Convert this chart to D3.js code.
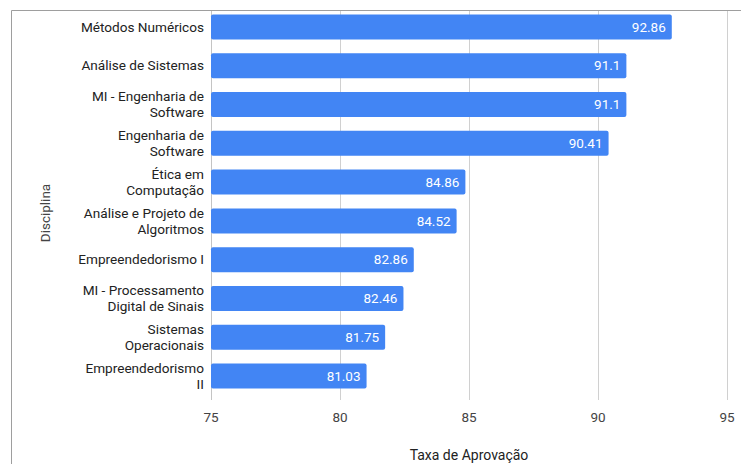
<!DOCTYPE html>
<html>
<head>
<meta charset="utf-8">
<script src="https://cdn.jsdelivr.net/npm/d3@7"></script>
<style>
  html, body { margin: 0; padding: 0; background: #fff; }
  svg { display: block; font-family: Roboto, "Noto Sans", sans-serif; }
</style>
</head>
<body>
<svg id="chart" width="741" height="464"></svg>
<script>
// Approval rate per course
const disciplinas = [
  ["Métodos Numéricos"],
  ["Análise de Sistemas"],
  ["MI - Engenharia de", "Software"],
  ["Engenharia de", "Software"],
  ["Ética em", "Computação"],
  ["Análise e Projeto de", "Algoritmos"],
  ["Empreendedorismo I"],
  ["MI - Processamento", "Digital de Sinais"],
  ["Sistemas", "Operacionais"],
  ["Empreendedorismo", "II"]
];
const taxas = [92.86, 91.1, 91.1, 90.41, 84.86, 84.52, 82.86, 82.46, 81.75, 81.03];
const xTicks = [75, 80, 85, 90, 95];
const xTitle = "Taxa de Aprovação";
const yTitle = "Disciplina";

const svg = d3.select("#chart");

// frame around the chart card
svg.append("path")
  .attr("d", "M11.5,464 V10.5 H741")
  .attr("fill", "none")
  .attr("stroke", "#9e9e9e")
  .attr("stroke-width", 1);

const plot = { left: 211, right: 727, top: 7.5, bottom: 395.5, gridTop: 11, gridBottom: 400 };

const x = d3.scaleLinear().domain([75, 95]).range([plot.left, plot.right]);
const idx = d3.range(taxas.length);
const y = d3.scaleBand().domain(idx).range([plot.top, plot.bottom])
  .paddingInner(0.355).paddingOuter(0.1775);

// vertical gridlines
svg.append("g").selectAll("line")
  .data(xTicks)
  .join("line")
  .attr("x1", d => Math.round(x(d)) + 0.5)
  .attr("x2", d => Math.round(x(d)) + 0.5)
  .attr("y1", plot.gridTop)
  .attr("y2", plot.gridBottom)
  .attr("stroke", d => d === 75 ? "#c4c4c4" : "#d0d0d0")
  .attr("stroke-width", 1);

// x tick labels
svg.append("g").selectAll("text")
  .data(xTicks)
  .join("text")
  .attr("x", d => x(d))
  .attr("y", 422)
  .attr("text-anchor", "middle")
  .attr("font-size", 13.5)
  .attr("fill", "#444")
  .text(d => d);

// bars
svg.append("g").selectAll("rect")
  .data(idx)
  .join("rect")
  .attr("x", x(75))
  .attr("y", i => y(i))
  .attr("width", i => x(taxas[i]) - x(75))
  .attr("height", y.bandwidth())
  .attr("rx", 2)
  .attr("fill", "#4285f4");

// value labels inside the bar ends
svg.append("g").selectAll("text")
  .data(idx)
  .join("text")
  .attr("x", i => x(taxas[i]) - 6)
  .attr("y", i => y(i) + y.bandwidth() / 2)
  .attr("dy", "0.35em")
  .attr("text-anchor", "end")
  .attr("font-size", 13.5)
  .attr("fill", "#fff")
  .text(i => taxas[i]);

// category labels (wrapped)
const cat = svg.append("g").selectAll("text")
  .data(idx)
  .join("text")
  .attr("text-anchor", "end")
  .attr("font-size", 13.6)
  .attr("fill", "#222");
cat.each(function(i) {
  const lines = disciplinas[i];
  const cy = y(i) + y.bandwidth() / 2;
  const lh = 16;
  const t = d3.select(this);
  lines.forEach((ln, k) => {
    t.append("tspan")
      .attr("x", 204)
      .attr("y", cy + (k - (lines.length - 1) / 2) * lh)
      .attr("dy", "0.35em")
      .text(ln);
  });
});

// axis titles
svg.append("text")
  .attr("x", (plot.left + plot.right) / 2)
  .attr("y", 460)
  .attr("text-anchor", "middle")
  .attr("font-size", 14)
  .attr("fill", "#222")
  .text(xTitle);

svg.append("text")
  .attr("transform", "translate(50,213) rotate(-90)")
  .attr("text-anchor", "middle")
  .attr("font-size", 13.5)
  .attr("fill", "#444")
  .text(yTitle);
</script>
</body>
</html>
